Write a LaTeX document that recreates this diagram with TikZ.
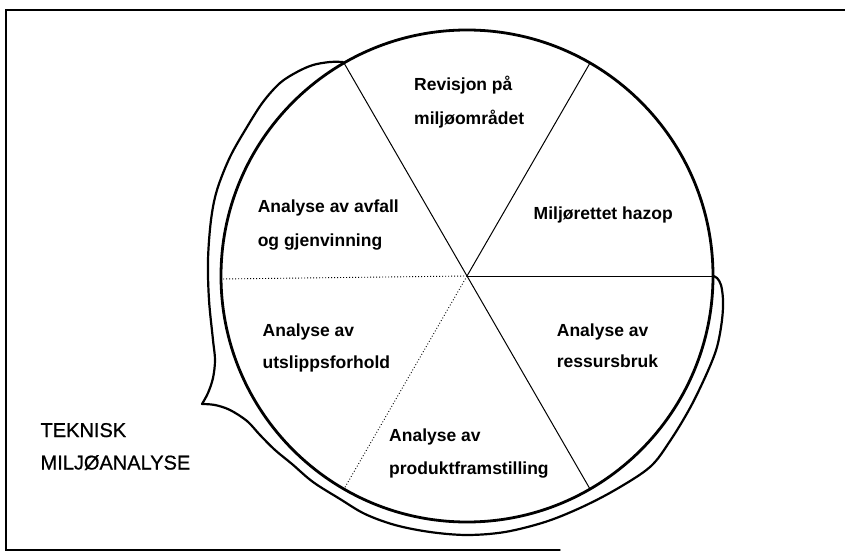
\documentclass[tikz,border=0pt]{standalone}
\usepackage{fontspec}
\setmainfont{Liberation Sans}
\newfontfamily\titlesans[FakeBold=0.7]{Liberation Sans}
\begin{document}
\begin{tikzpicture}[x=1pt,y=-1pt,
  frame/.style={line width=1.4pt,line cap=round},
  rim/.style={line width=2.8pt},
  bubble/.style={line width=2.2pt,line join=round,line cap=round},
  spoke/.style={line width=1pt},
  dotspoke/.style={line width=0.9pt,dash pattern=on 0.9pt off 2.1pt},
  sector/.style={anchor=base west,inner sep=0pt,font=\bfseries\fontsize{17.5}{20}\selectfont},
  caption/.style={anchor=base west,inner sep=0pt,font=\titlesans\fontsize{20}{24}\selectfont}]
\useasboundingbox (0,0) rectangle (845,553);

% page frame (open on the right)
\draw[frame] (845,10) -- (6,10) -- (6,550) -- (560,550);

% wheel
\coordinate (c) at (467,276);
\coordinate (r0) at (713,276);
\coordinate (r60) at (590,63);
\coordinate (r120) at (344,63);
\coordinate (r180) at (221,279);
\coordinate (r240) at (344,489);
\coordinate (r300) at (590,489);
\draw[rim] (c) circle[radius=246pt];
\draw[spoke] (c) -- (r0);
\draw[spoke] (c) -- (r60);
\draw[spoke] (r120) -- (r300);
\draw[dotspoke] (c) -- (r180);
\draw[dotspoke] (c) -- (r240);

% speech-bubble outline around the wheel
\coordinate (tip) at (202,404);
\draw[bubble] plot[smooth,tension=0.55] coordinates {
  (343,62) (330,62) (313,65) (297,72) (280,83) (263,102) (247,127)
  (230,157) (217,190) (211,220) (208,260) (209,300) (213,340)
  (215,360) (213,378) (208,393) (202,404)};
\draw[bubble] plot[smooth,tension=0.55] coordinates {
  (202,404) (215,405) (230,410) (247,421) (260,435) (275,450)
  (292,464) (313,482) (340,499) (365,514) (395,525) (430,532)
  (467,535) (505,532) (545,522) (580,508) (615,490) (650,467)
  (670,441) (690,408) (707,373) (717,347) (722,320) (723,300)
  (721,285) (717,278) (713,276)};

% sector labels
\node[sector] (revA) at (414,91) {Revisjon på};
\node[sector] (revB) at (414,125) {miljøområdet};
\node[sector] (haz) at (533.5,220) {Miljørettet hazop};
\node[sector] (avfA) at (257.6,213) {Analyse av avfall};
\node[sector] (avfB) at (257.6,246.5) {og gjenvinning};
\node[sector] (utsA) at (262.5,336.5) {Analyse av};
\node[sector] (utsB) at (262.5,368) {utslippsforhold};
\node[sector] (resA) at (556.7,336) {Analyse av};
\node[sector] (resB) at (556.7,367.5) {ressursbruk};
\node[sector] (proA) at (389,441) {Analyse av};
\node[sector] (proB) at (389,474) {produktframstilling};

% title
\node[caption] (titA) at (40.4,437) {TEKNISK};
\node[caption] (titB) at (40.4,469.5) {MILJØANALYSE};
\end{tikzpicture}
\end{document}
